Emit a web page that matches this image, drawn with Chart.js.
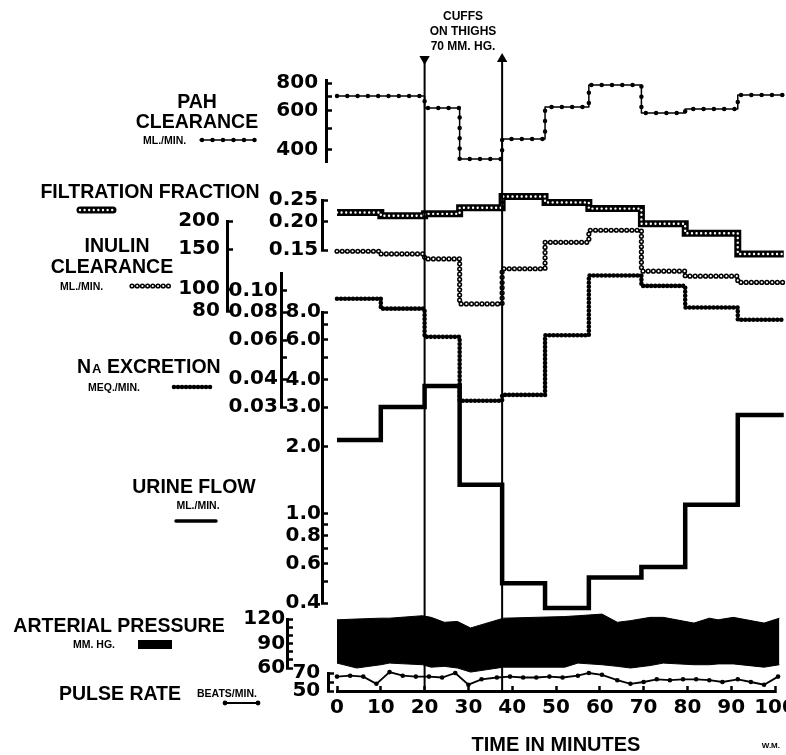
<!DOCTYPE html>
<html>
<head>
<meta charset="utf-8">
<script src="https://cdn.jsdelivr.net/npm/chart.js@4.4.1/dist/chart.umd.min.js"></script>
<style>
  html, body { margin: 0; padding: 0; background: #fff; }
</style>
</head>
<body>
<canvas id="renalChart" width="786" height="755"></canvas>
<script>
// values (minutes, per collection period)
const STEP_TIMES = [0, 10, 20, 28, 37.7, 47.5, 57.5, 69.5, 79.5, 91.5, 102];
const PAH_CLEARANCE = [700, 700, 618, 364, 448, 625, 785, 587, 612, 708];
const FILTRATION_FRACTION = [0.220, 0.213, 0.217, 0.231, 0.259, 0.244, 0.229, 0.196, 0.178, 0.144];
const INULIN_CLEARANCE = [147, 143, 136, 86, 123, 161, 182, 120, 114, 107];
const NA_EXCRETION = [0.092, 0.083, 0.062, 0.032, 0.034, 0.063, 0.117, 0.105, 0.084, 0.074];
const URINE_FLOW = [2.14, 3.01, 3.73, 1.35, 0.49, 0.38, 0.52, 0.58, 1.10, 2.77];

const PRESSURE_TIMES = [0, 4.5, 10, 12, 19.5, 21.5, 24.5, 27.5, 30.5, 38, 52, 55, 60.5, 64, 67, 71.5, 74.5, 81.5, 85, 87, 90.5, 97.5, 101];
const SYSTOLIC = [119, 120, 121, 121, 124, 122, 116, 117, 109, 121, 123, 124, 126, 116, 118, 122, 122, 115, 121, 119, 122, 115, 121];
const DIASTOLIC = [66, 60, 64, 66, 64, 61, 62, 60, 55, 61, 61, 66, 64, 62, 60, 63, 66, 64, 64, 65, 65, 61, 64];

const PULSE_TIMES = [0, 3, 6, 9, 12, 15, 18, 21, 24, 27, 30, 33, 36.5, 39.5, 42.5, 45.5, 48.5, 51.5, 55, 57.5, 60.5, 64, 67, 70, 73, 76, 79, 82, 85, 88, 91.5, 94.5, 97.5, 100.7];
const PULSE_RATE = [66, 67, 66, 58, 71, 67, 66, 66, 65, 70, 57, 63, 65, 66, 65, 65, 66, 65, 67, 70, 68, 62, 58, 60, 63, 62, 63, 63, 62, 60, 63, 60, 57, 66];

const CUFF_ON = 20;
const CUFF_OFF = 37.7;

// tick values and their labels
const X_TICKS = [0, 10, 20, 30, 40, 50, 60, 70, 80, 90, 100];
const PAH_TICKS = [400, 500, 600, 700, 800];
const PAH_LABELS = ['400', '', '600', '', '800'];
const FF_TICKS = [0.15, 0.20, 0.25];
const FF_LABELS = ['0.15', '0.20', '0.25'];
const INULIN_TICKS = [80, 100, 150, 200];
const INULIN_LABELS = ['80', '100', '150', '200'];
const NA_TICKS = [0.03, 0.04, 0.05, 0.06, 0.08, 0.10];
const NA_LABELS = ['0.03', '0.04', '', '0.06', '0.08', '0.10'];
const URINE_TICKS = [0.4, 0.5, 0.6, 0.7, 0.8, 0.9, 1, 2, 3, 4, 5, 6, 7, 8];
const URINE_LABELS = ['0.4', '', '0.6', '', '0.8', '', '1.0', '2.0', '3.0', '4.0', '', '6.0', '', '8.0'];
const PRESSURE_TICKS = [60, 70, 80, 90, 100, 110, 120];
const PRESSURE_LABELS = ['60', '', '', '90', '', '', '120'];
const PULSE_TICKS = [50, 60, 70];
const PULSE_LABELS = ['50', '', '70'];

// where each y axis sits on the page (top px, bottom px)
const AXIS_SPANS = {
  yPah: [80, 162],
  yFf: [200, 250],
  yInulin: [221, 311],
  yNa: [273, 407],
  yUrine: [312, 603],
  yPressure: [619, 668],
  yPulse: [673, 691],
  yCuff: [59, 691]
};

const NUM_FONT = { family: '"DejaVu Sans"', size: 20, weight: 'bold' };
const WORD = 'bold 19.5px "Liberation Sans"';
const SMALL = 'bold 10.5px "Liberation Sans"';
const THIN = '\u2009';
const HAIR = '\u200a';

function steps(values) {
  const pts = values.map((v, i) => ({ x: STEP_TIMES[i], y: v }));
  pts.push({ x: STEP_TIMES[values.length], y: values[values.length - 1] });
  return pts;
}
function pairs(xs, ys) {
  return ys.map((v, i) => ({ x: xs[i], y: v }));
}

function stepLine(values, axis, extra) {
  return Object.assign({
    data: steps(values), yAxisID: axis, stepped: 'before',
    borderColor: '#000', borderWidth: 4, pointRadius: 0, fill: false, clip: false,
    borderCapStyle: 'round', borderJoinStyle: 'round'
  }, extra);
}

// chart.js puts the labels of a value-positioned axis flush on its line,
// so a trailing thin space keeps them off it
function sideAxis(type, min, max, atX, ticks, labels, pad) {
  return {
    type: type, min: min, max: max, bounds: 'data',
    position: { x: atX },
    afterBuildTicks: (s) => { s.ticks = ticks.map(v => ({ value: v })); },
    ticks: {
      autoSkip: false, color: '#000', font: NUM_FONT,
      callback: (v, i) => labels[i] ? labels[i] + pad : ''
    },
    grid: { drawOnChartArea: false, tickLength: -7, tickWidth: 2.5, tickColor: '#000' },
    border: { color: '#000', width: 3 }
  };
}

// pins every axis to its drawn place after chart.js has done its layout
const pinAxes = {
  id: 'pinAxes',
  afterLayout(chart) {
    const x = chart.scales.x;
    x.left = 337; x.right = 775; x.width = 438;
    x.top = 691; x.bottom = 755; x.height = 64;
    x.configure();
    for (const id in AXIS_SPANS) {
      const s = chart.scales[id];
      s.top = AXIS_SPANS[id][0];
      s.bottom = AXIS_SPANS[id][1];
      s.height = s.bottom - s.top;
      s.configure();
    }
    chart.chartArea = { left: 330, top: 40, right: 786, bottom: 700, width: 456, height: 660 };
  }
};

function sample(ctx, x1, x2, y, width, dash, color) {
  ctx.save();
  ctx.beginPath();
  ctx.lineWidth = width;
  ctx.setLineDash(dash);
  ctx.lineCap = 'round';
  ctx.strokeStyle = color || '#000';
  ctx.moveTo(x1, y);
  ctx.lineTo(x2, y);
  ctx.stroke();
  ctx.restore();
}

const figureText = {
  id: 'figureText',
  afterDraw(chart) {
    const ctx = chart.ctx;
    ctx.save();
    ctx.fillStyle = '#000';
    ctx.textBaseline = 'alphabetic';
    ctx.textAlign = 'center';
    const words = [
      ['PAH', 197, 108, WORD], ['CLEARANCE', 197, 128, WORD],
      ['FILTRATION FRACTION', 150, 198, WORD],
      ['INULIN', 117, 252, WORD], ['CLEARANCE', 112, 273, WORD],
      ['URINE FLOW', 194, 493, WORD], ['ML./MIN.', 198, 509, SMALL],
      ['ARTERIAL PRESSURE', 119, 632, WORD],
      ['PULSE RATE', 120, 700, WORD],
      ['CUFFS', 463, 20, 'bold 12px "Liberation Sans"'],
      ['ON THIGHS', 463, 35, 'bold 12px "Liberation Sans"'],
      ['70 MM. HG.', 463, 50, 'bold 12px "Liberation Sans"']
    ];
    for (const [t, x, y, f] of words) { ctx.font = f; ctx.fillText(t, x, y); }

    ctx.textAlign = 'left';
    const small = [
      ['ML./MIN.', 143, 144], ['ML./MIN.', 60, 290], ['MEQ./MIN.', 88, 391],
      ['MM. HG.', 73, 648], ['BEATS/MIN.', 197, 697]
    ];
    ctx.font = SMALL;
    for (const [t, x, y] of small) ctx.fillText(t, x, y);

    // Na with small-cap A
    ctx.font = WORD;
    ctx.fillText('N', 77, 373);
    let w = ctx.measureText('N').width;
    ctx.font = 'bold 13px "Liberation Sans"';
    ctx.fillText('A', 77 + w + 1, 373);
    w += ctx.measureText('A').width + 1;
    ctx.font = WORD;
    ctx.fillText(' EXCRETION', 77 + w, 373);

    ctx.textAlign = 'right';
    ctx.font = 'bold 8px "Liberation Sans"';
    ctx.fillText('W.M.', 780, 748);

    // key samples
    sample(ctx, 200, 255, 140, 1.5, []);
    sample(ctx, 202, 255, 140, 4.5, [0, 10.5]);
    sample(ctx, 80, 113, 210, 7, []);
    sample(ctx, 80, 113, 210, 2.4, [0, 4.6], '#fff');
    sample(ctx, 132, 172, 286, 5.2, [0, 5.2]);
    sample(ctx, 132, 172, 286, 2.2, [0, 5.2], '#fff');
    sample(ctx, 174, 212, 387, 4.6, [0, 4]);
    sample(ctx, 176, 216, 521, 3.5, []);
    ctx.fillRect(138, 640, 34, 9);
    sample(ctx, 225, 258, 703, 1.8, []);
    ctx.beginPath(); ctx.arc(225, 703, 2.4, 0, Math.PI * 2); ctx.arc(258, 703, 2.4, 0, Math.PI * 2); ctx.fill();
    ctx.restore();
  }
};

const datasets = [
  // cuff markers
  {
    data: [{ x: CUFF_ON, y: 1 }, { x: CUFF_ON, y: 0 }], yAxisID: 'yCuff',
    borderColor: '#000', borderWidth: 2, clip: false,
    pointRadius: [6, 0], pointStyle: 'triangle', rotation: 180, pointBackgroundColor: '#000', pointBorderWidth: 0
  },
  {
    data: [{ x: CUFF_OFF, y: 1 }, { x: CUFF_OFF, y: 0 }], yAxisID: 'yCuff',
    borderColor: '#000', borderWidth: 2, clip: false,
    pointRadius: [6, 0], pointStyle: 'triangle', rotation: 0, pointBackgroundColor: '#000', pointBorderWidth: 0
  },
  // PAH: thin line with beads
  stepLine(PAH_CLEARANCE, 'yPah', { borderWidth: 1.5 }),
  stepLine(PAH_CLEARANCE, 'yPah', { borderWidth: 4.5, borderDash: [0, 10.3] }),
  // filtration fraction: hatched band
  stepLine(FILTRATION_FRACTION, 'yFf', { borderWidth: 2.4, borderDash: [0, 4.6], borderColor: '#fff', order: 0 }),
  stepLine(FILTRATION_FRACTION, 'yFf', { borderWidth: 7, borderCapStyle: 'butt', borderJoinStyle: 'miter', order: 1 }),
  // inulin: open circles
  stepLine(INULIN_CLEARANCE, 'yInulin', { borderWidth: 2.2, borderDash: [0, 5.2], borderColor: '#fff', order: 0 }),
  stepLine(INULIN_CLEARANCE, 'yInulin', { borderWidth: 5.2, borderDash: [0, 5.2], order: 1 }),
  // sodium: solid beads
  stepLine(NA_EXCRETION, 'yNa', { borderWidth: 4.6, borderDash: [0, 4], order: 2 }),
  // urine flow
  stepLine(URINE_FLOW, 'yUrine', { borderWidth: 4.5, borderCapStyle: 'butt', borderJoinStyle: 'miter', order: 2 }),
  // arterial pressure band
  {
    data: pairs(PRESSURE_TIMES, SYSTOLIC), yAxisID: 'yPressure',
    borderColor: '#000', borderWidth: 1, pointRadius: 0, fill: false, clip: false, order: 3
  },
  {
    data: pairs(PRESSURE_TIMES, DIASTOLIC), yAxisID: 'yPressure',
    borderColor: '#000', borderWidth: 1, pointRadius: 0, fill: '-1', backgroundColor: '#000', clip: false, order: 3
  },
  // pulse
  {
    data: pairs(PULSE_TIMES, PULSE_RATE), yAxisID: 'yPulse',
    borderColor: '#000', borderWidth: 1.8, pointRadius: 2.3, pointBackgroundColor: '#000',
    pointBorderWidth: 0, fill: false, clip: false, order: 2
  }
];

new Chart(document.getElementById('renalChart'), {
  type: 'line',
  data: { datasets: datasets },
  plugins: [pinAxes, figureText],
  options: {
    responsive: false,
    animation: false,
    events: [],
    layout: { padding: { left: 337, right: 11, top: 59, bottom: 0 } },
    plugins: { legend: { display: false }, tooltip: { enabled: false } },
    scales: {
      x: {
        type: 'linear', min: 0, max: 100, position: 'bottom',
        afterBuildTicks: (s) => { s.ticks = X_TICKS.map(v => ({ value: v })); },
        ticks: { autoSkip: false, maxRotation: 0, padding: 10, color: '#000', font: NUM_FONT },
        grid: { drawOnChartArea: false, tickLength: -5, tickWidth: 2.5, tickColor: '#000' },
        border: { color: '#000', width: 3 },
        title: {
          display: true, text: 'TIME IN MINUTES', color: '#000',
          font: { family: '"Liberation Sans"', size: 20, weight: 'bold', lineHeight: 1 },
          padding: { top: 0, bottom: 0 }
        }
      },
      yPah: sideAxis('logarithmic', 353, 827, -2.5, PAH_TICKS, PAH_LABELS, THIN + THIN),
      yFf: sideAxis('logarithmic', 0.15, 0.25, -3.4, FF_TICKS, FF_LABELS, THIN),
      yInulin: sideAxis('logarithmic', 80, 200, -24.9, INULIN_TICKS, INULIN_LABELS, THIN + THIN),
      yNa: sideAxis('logarithmic', 0.03, 0.12, -12.6, NA_TICKS, NA_LABELS, THIN),
      yUrine: sideAxis('logarithmic', 0.4, 8, -3.2, URINE_TICKS, URINE_LABELS, HAIR),
      yPressure: sideAxis('linear', 60, 120, -11.4, PRESSURE_TICKS, PRESSURE_LABELS, HAIR),
      yPulse: sideAxis('linear', 50, 70, -2.0, PULSE_TICKS, PULSE_LABELS, THIN + THIN),
      yCuff: { type: 'linear', min: 0, max: 1, display: false, position: { x: 0 } }
    }
  }
});
</script>
</body>
</html>
